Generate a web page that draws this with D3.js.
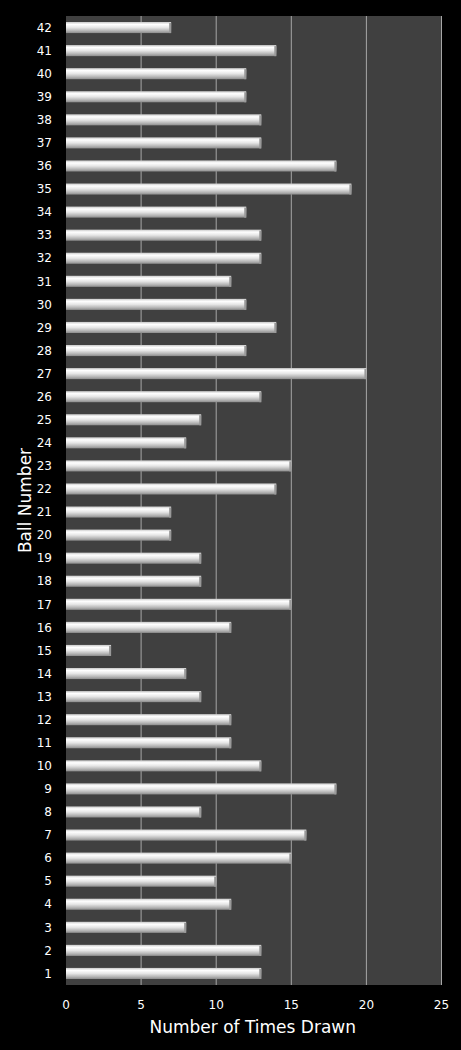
<!DOCTYPE html>
<html>
<head>
<meta charset="utf-8">
<script src="https://cdn.jsdelivr.net/npm/d3@7"></script>
<style>
  html, body { margin: 0; padding: 0; background: #000; }
  svg { display: block; }
  text { font-family: "DejaVu Sans", Verdana, sans-serif; fill: #fff; }
</style>
</head>
<body>
<svg id="chart" width="461" height="1050"></svg>
<script>
// ball numbers, bottom to top
var balls = d3.range(1, 43).map(String);
var timesDrawn = [13, 13, 8, 11, 10, 15, 16, 9, 18, 13,
                  11, 11, 9, 8, 3, 11, 15, 9, 9, 7,
                  7, 14, 15, 8, 9, 13, 20, 12, 14, 12,
                  11, 13, 13, 12, 19, 18, 13, 13, 12, 12,
                  14, 7];
var xTicks = [0, 5, 10, 15, 20, 25];

var margin = { top: 16, right: 19.5, bottom: 65, left: 66 };
var width = 461 - margin.left - margin.right;
var height = 1050 - margin.top - margin.bottom;

var svg = d3.select('#chart');

var defs = svg.append('defs');
var grad = defs.append('linearGradient')
    .attr('id', 'barGrad')
    .attr('x1', 0).attr('y1', 0).attr('x2', 0).attr('y2', 1);
grad.append('stop').attr('offset', '0%').attr('stop-color', '#c8c8c8');
grad.append('stop').attr('offset', '22%').attr('stop-color', '#ffffff');
grad.append('stop').attr('offset', '50%').attr('stop-color', '#e6e6e6');
grad.append('stop').attr('offset', '80%').attr('stop-color', '#b4b4b4');
grad.append('stop').attr('offset', '100%').attr('stop-color', '#8c8c8c');

var g = svg.append('g').attr('transform', 'translate(' + margin.left + ',' + margin.top + ')');

var x = d3.scaleLinear().domain([0, 25]).range([0, width]);
var y = d3.scaleBand().domain(balls.slice().reverse()).range([0, height]).paddingInner(0.52).paddingOuter(0.26);

// plot background
g.append('rect')
    .attr('width', width)
    .attr('height', height)
    .attr('fill', '#404040');

// gridlines
g.selectAll('.grid')
    .data(xTicks.filter(function(d) { return d > 0; }))
    .enter().append('line')
    .attr('x1', function(d) { return x(d); })
    .attr('x2', function(d) { return x(d); })
    .attr('y1', 0)
    .attr('y2', height)
    .attr('stroke', '#a6a6a6')
    .attr('stroke-width', 1);

// bars
var bars = g.selectAll('.bar')
    .data(balls)
    .enter().append('g')
    .attr('class', 'bar');

bars.append('rect')
    .attr('x', 0)
    .attr('y', function(d) { return y(d); })
    .attr('width', function(d, i) { return x(timesDrawn[i]); })
    .attr('height', y.bandwidth())
    .attr('fill', 'url(#barGrad)');

// darker bevelled end cap
bars.append('rect')
    .attr('x', function(d, i) { return x(timesDrawn[i]) - 2; })
    .attr('y', function(d) { return y(d) + 1; })
    .attr('width', 2)
    .attr('height', y.bandwidth() - 1)
    .attr('fill', '#9a9a9a');

// y axis labels
g.selectAll('.ylab')
    .data(balls)
    .enter().append('text')
    .attr('x', -14)
    .attr('y', function(d) { return y(d) + y.bandwidth() / 2; })
    .attr('dy', '0.35em')
    .attr('text-anchor', 'end')
    .attr('font-size', 12)
    .text(function(d) { return d; });

// x axis labels
g.selectAll('.xlab')
    .data(xTicks)
    .enter().append('text')
    .attr('x', function(d) { return x(d); })
    .attr('y', height + 24)
    .attr('text-anchor', 'middle')
    .attr('font-size', 12)
    .text(function(d) { return d; });

// axis titles
svg.append('text')
    .attr('x', margin.left + width / 2 - 1)
    .attr('y', 1033)
    .attr('text-anchor', 'middle')
    .attr('font-size', 17)
    .text('Number of Times Drawn');

svg.append('text')
    .attr('transform', 'translate(31,' + (margin.top + height / 2) + ') rotate(-90)')
    .attr('text-anchor', 'middle')
    .attr('font-size', 17)
    .text('Ball Number');
</script>
</body>
</html>
